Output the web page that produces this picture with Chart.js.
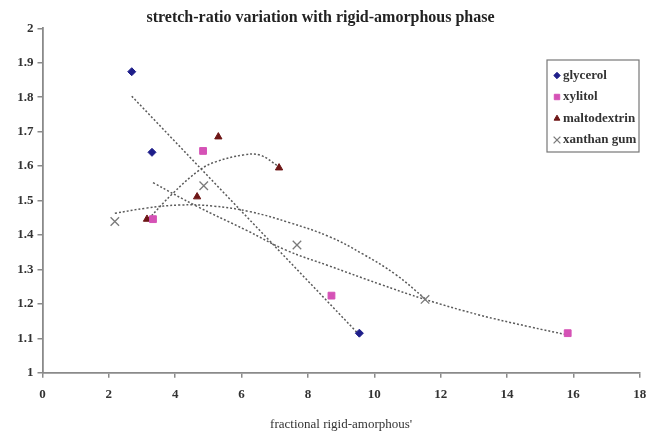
<!DOCTYPE html>
<html>
<head>
<meta charset="utf-8">
<script src="https://cdn.jsdelivr.net/npm/chart.js@4.4.0/dist/chart.umd.min.js"></script>
<style>
  html, body { margin: 0; padding: 0; background: #fff; }
  #wrap { width: 647px; height: 433px; }
</style>
</head>
<body>
<div id="wrap"><canvas id="stretchChart" width="647" height="433"></canvas></div>
<script>
// valores
const seriesNames = ['glycerol', 'xylitol', 'maltodextrin', 'xanthan gum'];

const glycerolX = [2.69, 3.30, 9.55];
const glycerolY = [1.874, 1.640, 1.115];

const xylitolX = [3.33, 4.84, 8.71, 15.83];
const xylitolY = [1.446, 1.644, 1.224, 1.115];

const maltoX = [3.15, 4.66, 5.30, 7.13];
const maltoY = [1.446, 1.511, 1.685, 1.595];

const xanthanX = [2.18, 4.86, 7.67, 11.53];
const xanthanY = [1.439, 1.543, 1.371, 1.213];

// linhas de tendencia (pontos lidos ao longo das curvas pontilhadas)
const glycerolTrendX = [2.69, 9.55];
const glycerolTrendY = [1.803, 1.110];

const xylitolTrendX = [3.33, 4.64, 6.14, 7.34, 8.65, 10.15, 11.53, 13.16, 14.66, 15.83];
const xylitolTrendY = [1.552, 1.484, 1.414, 1.356, 1.310, 1.258, 1.213, 1.168, 1.134, 1.110];

const maltoTrendX = [3.2, 3.93, 4.74, 5.24, 6.04, 6.55, 7.13];
const maltoTrendY = [1.447, 1.521, 1.589, 1.613, 1.632, 1.632, 1.598];

const xanthanTrendX = [2.18, 3.13, 4.14, 5.14, 6.24, 7.44, 8.65, 9.65, 10.65, 11.53];
const xanthanTrendY = [1.463, 1.478, 1.487, 1.484, 1.468, 1.436, 1.395, 1.345, 1.285, 1.215];

const xTicks = [0, 2, 4, 6, 8, 10, 12, 14, 16, 18];
const yTicks = [1, 1.1, 1.2, 1.3, 1.4, 1.5, 1.6, 1.7, 1.8, 1.9, 2];

function pontos(xs, ys) {
    return xs.map((x, i) => ({ x: x, y: ys[i] }))
}

function tendencia(xs, ys, curva) {
    return {
        label: '',
        data: pontos(xs, ys),
        showLine: true,
        pointRadius: 0,
        borderColor: '#5a5a5a',
        borderWidth: 1.5,
        borderDash: [2, 2],
        tension: curva ? 0.4 : 0,
        fill: false
    }
}

const axisColor = '#8a8a8a';
const textColor = '#333';

const legendBox = {
    id: 'legendBox',
    afterDraw(chart) {
        const ctx = chart.ctx;
        const x0 = 547, y0 = 60, w = 92, h = 92;
        ctx.save();
        ctx.fillStyle = '#fff';
        ctx.fillRect(x0, y0, w, h);
        ctx.strokeStyle = '#777';
        ctx.lineWidth = 1.2;
        ctx.strokeRect(x0, y0, w, h);
        seriesNames.forEach((name, i) => {
            const ds = chart.data.datasets[i];
            const y = y0 + 15.5 + i * 21.5;
            ctx.fillStyle = ds.backgroundColor;
            ctx.strokeStyle = ds.borderColor;
            ctx.lineWidth = ds.borderWidth;
            Chart.helpers.drawPoint(ctx, {
                pointStyle: ds.pointStyle,
                radius: ds.pointRadius * 0.8,
                borderWidth: ds.borderWidth,
                rotation: 0
            }, x0 + 10, y);
            ctx.fillStyle = textColor;
            ctx.font = 'bold 13px "Liberation Serif"';
            ctx.textBaseline = 'middle';
            ctx.textAlign = 'left';
            ctx.fillText(name, x0 + 16, y);
        });
        ctx.restore();
    }
};

const ctx = document.getElementById('stretchChart').getContext('2d');
const stretchChart = new Chart(ctx, {
    type: 'scatter',
    data: {
        datasets: [
            {
                label: seriesNames[0],
                data: pontos(glycerolX, glycerolY),
                pointStyle: 'rectRot',
                pointRadius: 4,
                backgroundColor: '#1e1e8a',
                borderColor: '#1e1e8a',
                borderWidth: 1
            },
            {
                label: seriesNames[1],
                data: pontos(xylitolX, xylitolY),
                pointStyle: 'rect',
                pointRadius: 4.8,
                backgroundColor: '#d552b6',
                borderColor: '#d552b6',
                borderWidth: 1
            },
            {
                label: seriesNames[2],
                data: pontos(maltoX, maltoY),
                pointStyle: 'triangle',
                pointRadius: 4.2,
                backgroundColor: '#6e1616',
                borderColor: '#6e1616',
                borderWidth: 1
            },
            {
                label: seriesNames[3],
                data: pontos(xanthanX, xanthanY),
                pointStyle: 'crossRot',
                pointRadius: 6,
                backgroundColor: '#7a7a7a',
                borderColor: '#7a7a7a',
                borderWidth: 1.3
            },
            tendencia(glycerolTrendX, glycerolTrendY, false),
            tendencia(xylitolTrendX, xylitolTrendY, true),
            tendencia(maltoTrendX, maltoTrendY, true),
            tendencia(xanthanTrendX, xanthanTrendY, true)
        ]
    },
    options: {
        responsive: false,
        animation: false,
        layout: {
            padding: { left: 0, right: 6, top: 0, bottom: 0 }
        },
        plugins: {
            legend: { display: false },
            tooltip: { enabled: false },
            title: {
                display: true,
                text: 'stretch-ratio variation with rigid-amorphous phase',
                color: '#222',
                font: { family: '"Liberation Serif"', size: 16, weight: 'bold' },
                padding: { top: 8.6, bottom: 0.5 }
            }
        },
        scales: {
            x: {
                type: 'linear',
                min: 0,
                max: 18,
                afterBuildTicks: (scale) => { scale.ticks = xTicks.map(v => ({ value: v })) },
                afterFit: (scale) => {
                    scale.height = 60.2
                    scale.paddingLeft = 0
                    scale.paddingRight = 0
                },
                ticks: {
                    color: textColor,
                    font: { family: '"Liberation Serif"', size: 13, weight: 'bold' },
                    padding: 9,
                    maxRotation: 0
                },
                grid: {
                    drawOnChartArea: false,
                    drawTicks: true,
                    tickLength: 5,
                    color: axisColor,
                    lineWidth: 1.5
                },
                border: { display: true, color: axisColor, width: 1.8 },
                title: {
                    display: true,
                    text: "fractional rigid-amorphous'",
                    color: textColor,
                    font: { family: '"Liberation Serif"', size: 13 },
                    padding: { top: 0, bottom: 1 }
                }
            },
            y: {
                type: 'linear',
                min: 1,
                max: 2,
                afterBuildTicks: (scale) => { scale.ticks = yTicks.map(v => ({ value: v })) },
                afterFit: (scale) => {
                    scale.width = 42.5
                    scale.paddingTop = 0
                    scale.paddingBottom = 0
                },
                ticks: {
                    color: textColor,
                    font: { family: '"Liberation Serif"', size: 13, weight: 'bold' },
                    padding: 4,
                    callback: (v) => String(Math.round(v * 10) / 10)
                },
                grid: {
                    drawOnChartArea: false,
                    drawTicks: true,
                    tickLength: 5,
                    color: axisColor,
                    lineWidth: 1.5
                },
                border: { display: true, color: axisColor, width: 1.8 }
            }
        }
    },
    plugins: [legendBox]
});
</script>
</body>
</html>
